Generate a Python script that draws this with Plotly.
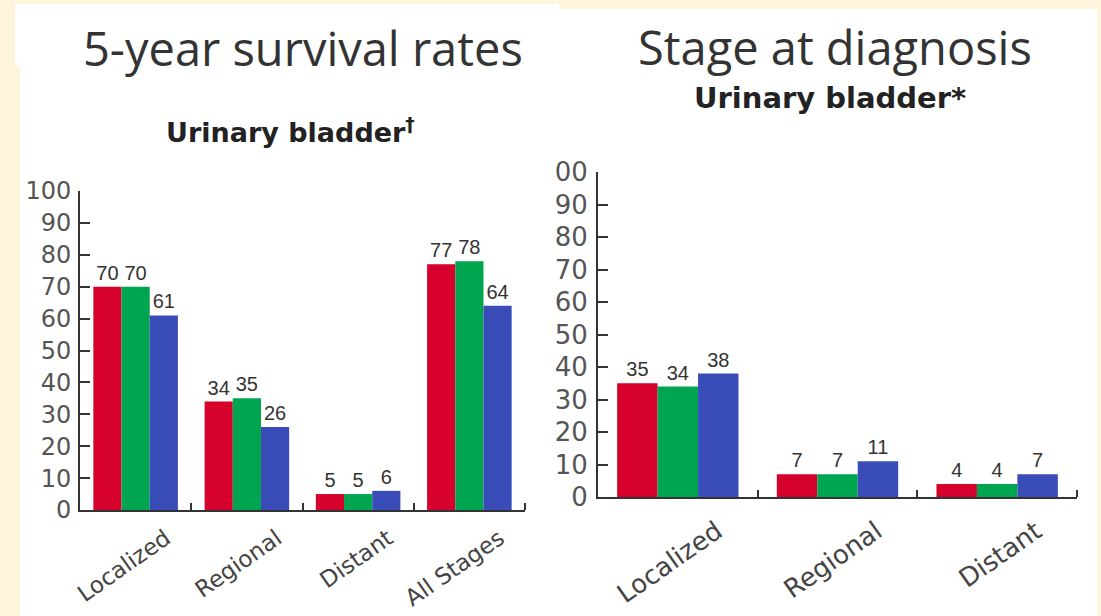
import plotly.graph_objects as go

# ---------------- data ----------------
surv_categories = ["Localized", "Regional", "Distant", "All Stages"]
surv_red = [70, 34, 5, 77]
surv_green = [70, 35, 5, 78]
surv_blue = [61, 26, 6, 64]

stage_categories = ["Localized", "Regional", "Distant"]
stage_red = [35, 7, 4]
stage_green = [34, 7, 4]
stage_blue = [38, 11, 7]

y_ticks = [0, 10, 20, 30, 40, 50, 60, 70, 80, 90, 100]
y_ticktext_left = ["0", "10", "20", "30", "40", "50", "60", "70", "80", "90", "100"]
y_ticktext_right = ["0", "10", "20", "30", "40", "50", "60", "70", "80", "90", "00"]

series_names = ["Series 1", "Series 2", "Series 3"]
colors = ["#D5002C", "#00A550", "#3A4CB8"]

titles = ["5-year survival rates", "Stage at diagnosis"]
subtitles = ["Urinary bladder<sup>†</sup>", "Urinary bladder*"]

# ---------------- layout helpers ----------------
W, H = 1101, 616
def px(x):
    return x / W
def py(y):
    return 1 - y / H

CREAM = "#FFF5DC"
AXIS = "#333333"
VALFONT = dict(family="Liberation Sans Narrow, Arial Narrow, Liberation Sans", size=20, color="#333333")

fig = go.Figure()

left_series = [surv_red, surv_green, surv_blue]
right_series = [stage_red, stage_green, stage_blue]

for name, vals, col in zip(series_names, left_series, colors):
    fig.add_trace(go.Bar(
        x=list(range(len(surv_categories))), y=vals, name=name,
        marker=dict(color=col, line=dict(width=0)),
        text=[str(v) for v in vals], textposition="outside",
        textfont=VALFONT, constraintext="none", cliponaxis=False,
        xaxis="x", yaxis="y", showlegend=False, hoverinfo="x+y",
    ))

for name, vals, col in zip(series_names, right_series, colors):
    fig.add_trace(go.Bar(
        x=list(range(len(stage_categories))), y=vals, name=name,
        marker=dict(color=col, line=dict(width=0)),
        text=[str(v) for v in vals], textposition="outside",
        textfont=VALFONT, constraintext="none", cliponaxis=False,
        xaxis="x2", yaxis="y2", showlegend=False, hoverinfo="x+y",
    ))

def xaxis_cfg(domain, cats, fsize, shift, standoff):
    n = len(cats)
    return dict(
        domain=domain, range=[-0.5, n - 0.5], type="linear",
        automargin=False,
        tickmode="array", tickvals=list(range(n)), ticktext=cats,
        ticks="", tickangle=-35,
        tickfont=dict(family="DejaVu Sans", size=fsize, color="#444444"),
        ticklabelshift=shift, ticklabelstandoff=standoff,
        showline=True, linecolor=AXIS, linewidth=2,
        showgrid=False, zeroline=False, fixedrange=True,
        minor=dict(tickmode="array", tickvals=[i + 0.5 for i in range(n)],
                   ticks="inside", ticklen=7, tickwidth=2, tickcolor=AXIS,
                   showgrid=False),
    )

def yaxis_cfg(domain, anchor, ticktext, fsize, standoff):
    return dict(
        domain=domain, range=[0, 100], anchor=anchor,
        automargin=False,
        tickmode="array", tickvals=y_ticks, ticktext=ticktext,
        ticks="inside", ticklen=10, tickwidth=2, tickcolor=AXIS,
        tickfont=dict(family="DejaVu Sans", size=fsize, color="#555555"),
        ticklabelstandoff=standoff,
        showline=True, linecolor=AXIS, linewidth=2,
        showgrid=False, zeroline=False, fixedrange=True,
    )

fig.update_layout(
    template="none",
    width=W, height=H, autosize=False,
    margin=dict(l=0, r=0, t=0, b=0, pad=0),
    paper_bgcolor=CREAM, plot_bgcolor="rgba(0,0,0,0)",
    font=dict(family="DejaVu Sans", color="#333333"),
    barmode="group", bargap=0.24, bargroupgap=0,
    showlegend=False,
    xaxis=dict(**xaxis_cfg([px(80), px(525)], surv_categories, 23, 30, 4), anchor="y"),
    yaxis=yaxis_cfg([py(510), py(191)], "x", y_ticktext_left, 24, 2),
    xaxis2=dict(**xaxis_cfg([px(598), px(1077)], stage_categories, 26, 39, 7), anchor="y2"),
    yaxis2=yaxis_cfg([py(497), py(172)], "x2", y_ticktext_right, 26, 3),
    shapes=[
        dict(type="rect", xref="paper", yref="paper", layer="below",
             x0=px(15), x1=px(559), y0=py(66), y1=py(4),
             fillcolor="white", line=dict(width=0)),
        dict(type="rect", xref="paper", yref="paper", layer="below",
             x0=px(20), x1=px(559), y0=0, y1=py(66),
             fillcolor="white", line=dict(width=0)),
        dict(type="rect", xref="paper", yref="paper", layer="below",
             x0=px(557), x1=px(1097), y0=0, y1=py(9),
             fillcolor="white", line=dict(width=0)),
    ],
    annotations=[
        dict(text=titles[0], xref="paper", yref="paper", x=px(303), y=py(48),
             xanchor="center", yanchor="middle", showarrow=False,
             font=dict(family="Open Sans", size=47, color="#333333")),
        dict(text=titles[1], xref="paper", yref="paper", x=px(835), y=py(47),
             xanchor="center", yanchor="middle", showarrow=False,
             font=dict(family="Open Sans", size=47, color="#333333")),
        dict(text=subtitles[0], xref="paper", yref="paper", x=px(290), y=py(130),
             xanchor="center", yanchor="middle", showarrow=False,
             font=dict(family="DejaVu Sans", size=27, color="#222222", weight="bold")),
        dict(text=subtitles[1], xref="paper", yref="paper", x=px(830), y=py(98),
             xanchor="center", yanchor="middle", showarrow=False,
             font=dict(family="DejaVu Sans", size=29, color="#222222", weight="bold")),
    ],
)

fig.write_html(
    "out.html",
    config={"displayModeBar": False, "responsive": False},
    post_script="document.body.style.margin='0';document.body.style.background='#FFF5DC';document.documentElement.style.overflow='hidden';",
)
